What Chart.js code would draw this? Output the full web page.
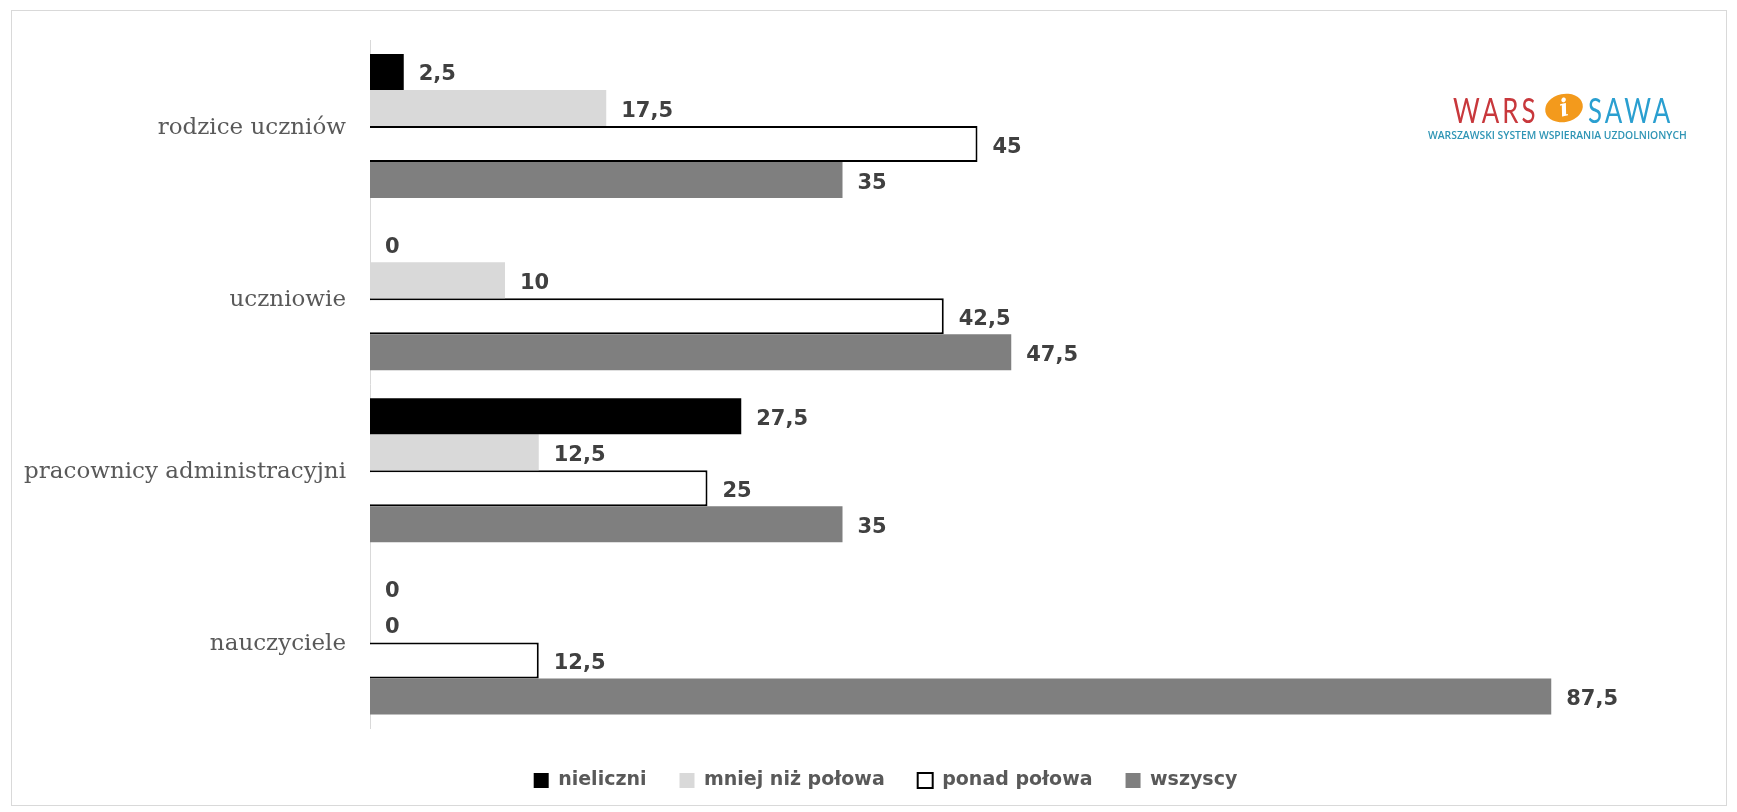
<!DOCTYPE html>
<html lang="pl">
<head>
<meta charset="utf-8">
<title>Wykres</title>
<script src="https://cdn.jsdelivr.net/npm/chart.js@4/dist/chart.umd.min.js"></script>
<style>
  html, body { margin: 0; padding: 0; background: #fff; }
  body { width: 1737px; height: 812px; position: relative; overflow: hidden; }
  #frame {
    position: absolute; left: 11px; top: 10px; width: 1716px; height: 796px;
    box-sizing: border-box; border: 1px solid #d9d9d9;
  }
  #wrap { position: relative; width: 1714px; height: 794px; }
  /* logo */
  .logo { position: absolute; white-space: nowrap; line-height: 1; }
  #wars, #sawa {
    top: 93px; font-family: Lato, "Open Sans", sans-serif; font-weight: 400;
    font-size: 34px; letter-spacing: 4px; transform: scaleX(0.76); transform-origin: left top;
  }
  #wars { left: 1453px; color: #c8383c; }
  #sawa { left: 1588px; color: #2a9fd0; }
  #blob {
    left: 1545px; top: 94px; width: 38px; height: 28px; border-radius: 50%;
    background: #f39a1c; transform: rotate(-12deg); color: #fff;
    font: italic bold 24px "DejaVu Serif", serif; text-align: center; line-height: 28px;
  }
  #sub {
    left: 1428px; top: 127px; font: 600 11px "Open Sans", sans-serif; color: #2f95b5;
    transform: scaleX(0.94); transform-origin: left top;
  }
</style>
</head>
<body>
<div id="frame"><div id="wrap"><canvas id="chart"></canvas></div></div>
<div class="logo" id="wars">WARS</div>
<div class="logo" id="blob">i</div>
<div class="logo" id="sawa">SAWA</div>
<div class="logo" id="sub">WARSZAWSKI SYSTEM WSPIERANIA UZDOLNIONYCH</div>

<script>
/* ====== dane ====== */
const categories = ["rodzice uczniów", "uczniowie", "pracownicy administracyjni", "nauczyciele"];
const seriesNames = ["nieliczni", "mniej niż połowa", "ponad połowa", "wszyscy"];
const nieliczni      = [2.5, 0, 27.5, 0];
const mniejNizPolowa = [17.5, 10, 12.5, 0];
const ponadPolowa    = [45, 42.5, 25, 12.5];
const wszyscy        = [35, 47.5, 35, 87.5];

const fmt = v => String(v).replace(".", ",");   // polski przecinek

// etykiety wartości na końcu słupków
const valueLabels = {
  id: "valueLabels",
  afterDatasetsDraw(chart) {
    const ctx = chart.ctx;
    ctx.save();
    ctx.font = "bold 21px 'DejaVu Sans', sans-serif";
    ctx.fillStyle = "#404040";
    ctx.textAlign = "left";
    ctx.textBaseline = "middle";
    chart.data.datasets.forEach((ds, i) => {
      chart.getDatasetMeta(i).data.forEach((bar, j) => {
        ctx.fillText(fmt(ds.data[j]), bar.x + 15, bar.y + 3);
      });
    });
    ctx.restore();
  }
};

// legenda lekko w prawo, jak w oryginale
const legendShift = {
  id: "legendShift",
  afterLayout(chart) {
    if (chart.legend) chart.legend.left += 39;
  }
};

const ctx = document.getElementById("chart").getContext("2d");
new Chart(ctx, {
  type: "bar",
  data: {
    labels: categories,
    datasets: [
      { label: seriesNames[0], data: nieliczni,      backgroundColor: "#000000", borderWidth: 0 },
      { label: seriesNames[1], data: mniejNizPolowa, backgroundColor: "#d9d9d9", borderWidth: 0 },
      { label: seriesNames[2], data: ponadPolowa,    backgroundColor: "#ffffff", borderColor: "#000000", borderWidth: 2 },
      { label: seriesNames[3], data: wszyscy,        backgroundColor: "#7f7f7f", borderWidth: 0 }
    ]
  },
  options: {
    indexAxis: "y",
    responsive: true,
    maintainAspectRatio: false,
    animation: false,
    categoryPercentage: 0.837,
    barPercentage: 1,
    layout: { padding: { left: 0, right: 6, top: 29, bottom: 5 } },
    plugins: {
      tooltip: { enabled: false },
      legend: {
        position: "bottom",
        labels: {
          boxWidth: 15, boxHeight: 15, padding: 33,
          color: "#595959",
          font: { family: "'DejaVu Sans', sans-serif", size: 19, weight: "bold" }
        }
      }
    },
    scales: {
      x: {
        min: 0, max: 100,
        grid: { display: false, drawTicks: false },
        border: { display: false },
        ticks: { display: false },
        afterFit: s => { s.height = 9.5; }
      },
      y: {
        grid: { display: false, drawTicks: false },
        border: { display: true, color: "#d9d9d9", width: 1 },
        ticks: {
          padding: 24,
          labelOffset: 2,
          color: "#595959",
          font: { family: "'DejaVu Serif', serif", size: 23 }
        },
        afterFit: s => { s.width = 358; s.paddingTop = 0; s.paddingBottom = 0; }
      }
    }
  },
  plugins: [valueLabels, legendShift]
});
</script>
</body>
</html>
